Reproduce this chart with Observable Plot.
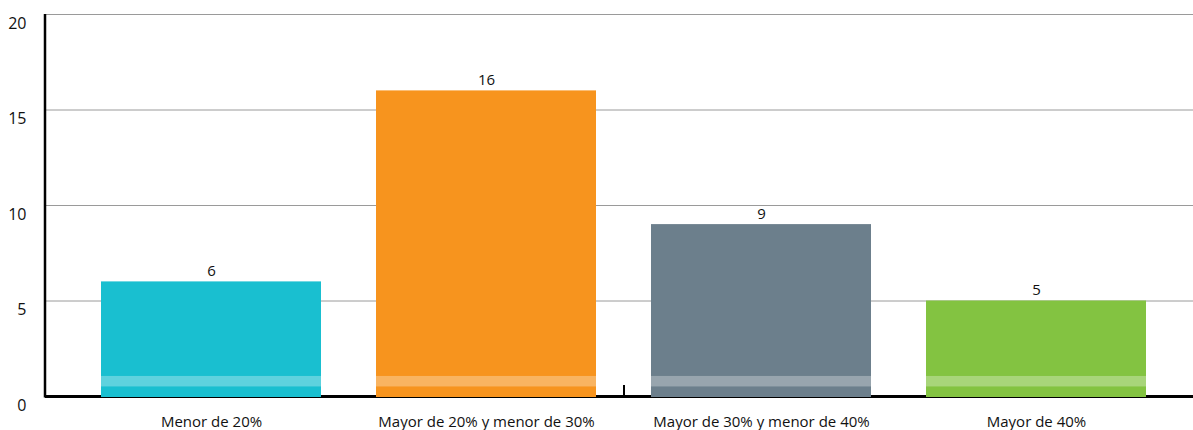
<!DOCTYPE html>
<html>
<head>
<meta charset="utf-8">
<script src="https://cdn.jsdelivr.net/npm/d3@7"></script>
<script src="https://cdn.jsdelivr.net/npm/@observablehq/plot@0.6"></script>
<style>
  html, body { margin: 0; padding: 0; background: #fff; }
  #chart { width: 1193px; height: 430px; }
</style>
</head>
<body>
<div id="chart"></div>
<script>
const categories = ["Menor de 20%", "Mayor de 20% y menor de 30%", "Mayor de 30% y menor de 40%", "Mayor de 40%"];
const values = [6, 16, 9, 5];
const colors = ["#19BFD0", "#F7941E", "#6C7F8C", "#83C341"];
const yTicks = [0, 5, 10, 15, 20];

const data = categories.map((c, i) => ({category: c, value: values[i], color: colors[i]}));

const font = "'Open Sans', Lato, sans-serif";

// short tick mark on the baseline, midway between the 2nd and 3rd bands
const centerTick = Plot.ruleY([0], {
  render: (index, scales) => {
    const x = scales.x;
    const bw = x.bandwidth ? x.bandwidth() : 0;
    const mid = Math.round((x(categories[1]) + bw + x(categories[2])) / 2);
    const y0 = scales.y(0);
    const g = d3.create("svg:g");
    g.append("line")
      .attr("x1", mid).attr("x2", mid)
      .attr("y1", y0 - 11).attr("y2", y0)
      .attr("stroke", "#000").attr("stroke-width", 2);
    return g.node();
  }
});

// vertical axis line on the left edge of the frame
const leftAxisLine = Plot.ruleY([0], {
  render: (index, scales, values, dims) => {
    const g = d3.create("svg:g");
    g.append("line")
      .attr("x1", dims.marginLeft).attr("x2", dims.marginLeft)
      .attr("y1", scales.y(20)).attr("y2", scales.y(0) + 1.5)
      .attr("stroke", "#000").attr("stroke-width", 2.5);
    return g.node();
  }
});

const chart = Plot.plot({
  width: 1193,
  height: 430,
  marginTop: 14,
  marginBottom: 34,
  marginLeft: 45,
  marginRight: 0,
  style: {fontFamily: font, fontSize: "15px", fontWeight: 500, color: "#111", background: "#fff"},
  x: {domain: categories, range: [73.5, 1173.5], paddingInner: 0.2, paddingOuter: 0.1, label: null},
  y: {domain: [0, 20], ticks: yTicks, label: null},
  marks: [
    Plot.ruleY(yTicks.filter(d => d > 0), {stroke: "#9a9a9a", strokeWidth: 1}),
    Plot.ruleY([0], {stroke: "#000", strokeWidth: 3}),
    leftAxisLine,
    centerTick,
    Plot.barY(data, {x: "category", y: "value", fill: "color", insetBottom: -1}),
    Plot.barY(data, {x: "category", y1: 0.5, y2: 1.05, fill: "#fff", fillOpacity: 0.3}),
    Plot.text(data, {x: "category", y: "value", text: d => String(d.value), lineAnchor: "bottom", dy: -6, fill: "#111", fontSize: 15, fontWeight: 500}),
    Plot.axisY(yTicks, {tickSize: 0, tickPadding: 19, dy: 9, fontSize: 16, fontWeight: 500, fill: "#111"}),
    Plot.axisX({tickSize: 0, tickPadding: 20, fontSize: 15, fontWeight: 500, fill: "#111"})
  ]
});

document.getElementById("chart").appendChild(chart);
</script>
</body>
</html>
